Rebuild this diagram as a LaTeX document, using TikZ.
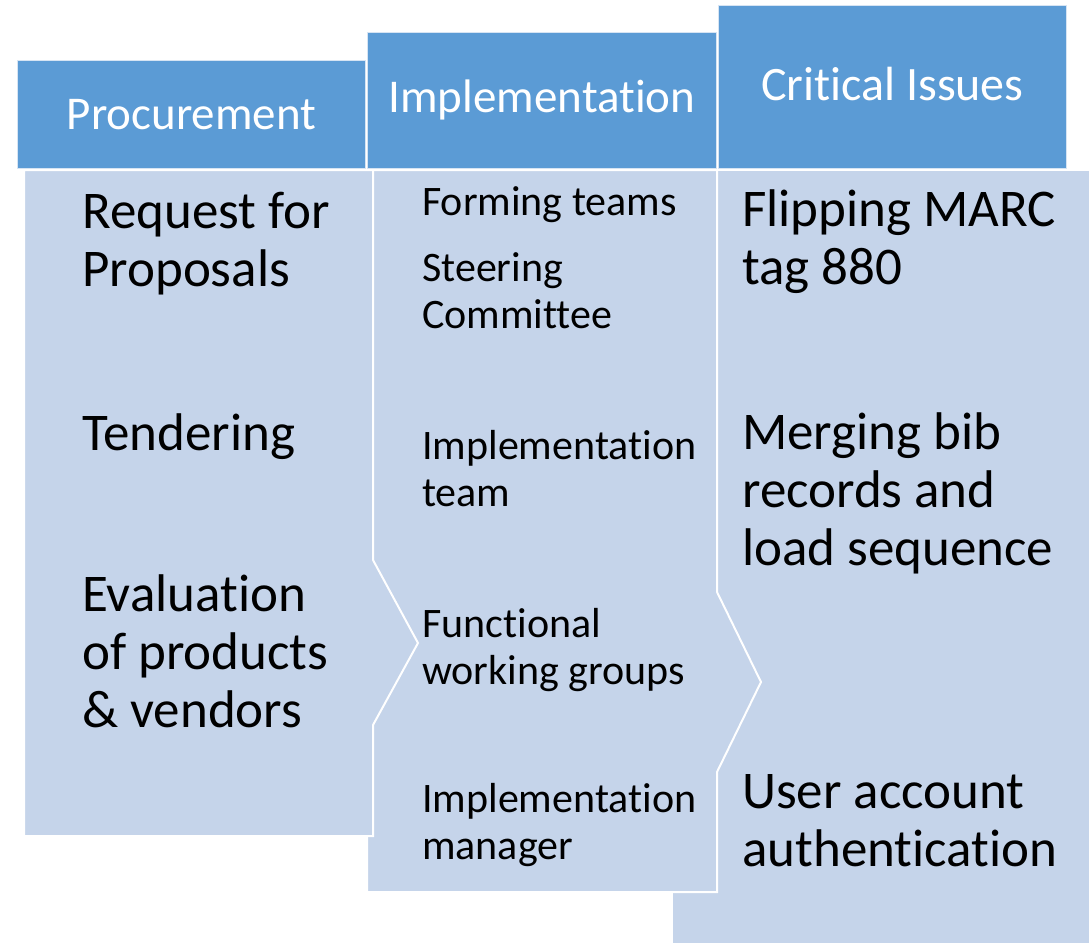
\documentclass[tikz,border=0pt]{standalone}
\usepackage{fontspec}
\setmainfont{Carlito}[Ligatures=NoCommon]
\definecolor{headblue}{HTML}{5B9BD5}
\definecolor{bodyblue}{HTML}{C5D4EA}
\definecolor{headline}{HTML}{D6E4F3}

\begin{document}
\begin{tikzpicture}[x=1pt,y=-1pt,
  head/.style={fill=headblue, draw=headline, line width=0.8pt, anchor=north west,
    inner sep=0pt, text=white},
  headfont/.style={font=\fontsize{#1}{56}\selectfont},
  panel/.style={fill=bodyblue, draw=white, line width=2pt, line join=miter},
  % multi-line items are placed by the baseline of their last line
  bigitem/.style={anchor=base west, inner sep=0pt, align=left,
    font=\fontsize{53}{58}\selectfont},
  smallitem/.style={anchor=base west, inner sep=0pt, align=left,
    font=\fontsize{42}{47}\selectfont},
]
\useasboundingbox (0,0) rectangle (1089,942);

\begin{scope}
  \clip (0,0) rectangle (1089,942);
  % body panels, back to front
  \draw[panel] (672,170) rectangle (1110,960);
  \draw[panel] (367,170) -- (717,170) -- (717,592) -- (761,682) -- (717,772)
    -- (717,892) -- (367,892) -- cycle;
  \draw[panel] (24,170) -- (373,170) -- (373,560) -- (418,643) -- (373,725)
    -- (373,836) -- (24,836) -- cycle;
\end{scope}

% column headers
\node[head, headfont=47, minimum width=348pt, minimum height=108pt] (hproc) at (17,60) {Procurement};
\node[head, headfont=47, minimum width=349pt, minimum height=136pt] (himpl) at (367,32) {Implementation};
\node[head, headfont=48, text depth=7pt, minimum width=348pt, minimum height=163pt] (hcrit) at (718,5) {Critical Issues};

% procurement items
\node[bigitem] (p1) at (82,286) {Request for\\Proposals};
\node[bigitem] (p2) at (82,450) {Tendering};
\node[bigitem] (p3) at (82,727) {Evaluation\\of products\\\& vendors};

% implementation items
\node[smallitem] (i1) at (422,215) {Forming teams};
\node[smallitem] (i2) at (422,328) {Steering\\Committee};
\node[smallitem] (i3) at (422,506) {Implementation\\team};
\node[smallitem] (i4) at (422,684) {Functional\\working groups};
\node[smallitem] (i5) at (422,859) {Implementation\\manager};

% critical issues
\node[bigitem] (c1) at (742,284) {Flipping MARC\\tag 880};
\node[bigitem] (c2) at (742,565) {Merging bib\\records and\\load sequence};
\node[bigitem] (c3) at (742,866) {User account\\authentication};
\end{tikzpicture}
\end{document}
